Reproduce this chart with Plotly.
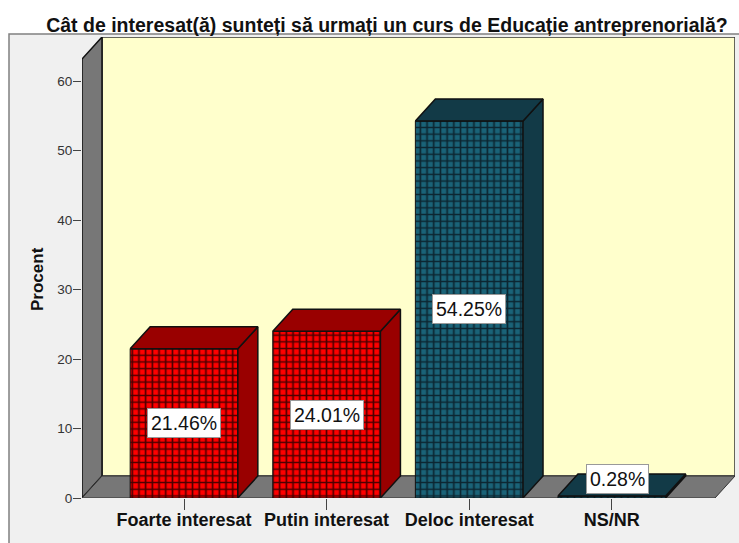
import plotly.graph_objects as go

categories = ["Foarte interesat", "Putin interesat", "Deloc interesat", "NS/NR"]
values = [21.46, 24.01, 54.25, 0.28]
labels = ["21.46%", "24.01%", "54.25%", "0.28%"]
front_colors = ["#FF0000", "#FF0000", "#1A6378", "#1A6378"]
grid_colors = ["#4A0000", "#4A0000", "#0C2530", "#0C2530"]
side_colors = ["#990000", "#990000", "#123A47", "#123A47"]
y_ticks = [0, 10, 20, 30, 40, 50, 60]
title = "Cât de interesat(ă) sunteți să urmați un curs de Educație antreprenorială?"

W, H = 739, 543
L, R, T, B = 82, 735, 37, 498
PX_X = 142.6
PX_Y = 6.95
X0 = 184
DX = 20 / PX_X
DY = 22 / PX_Y
BAR_W = 0.755
xr = [(L - X0) / PX_X, (R - X0) / PX_X]
yr = [0, (B - T) / PX_Y]
ymax = yr[1]

fig = go.Figure()


def path(xs, ys):
    return "M" + " L".join(f"{x},{y}" for x, y in zip(xs, ys)) + " Z"


def wall(xs, ys, fill, line="#111111", width=1.5):
    return dict(type="path", path=path(xs, ys), xref="x", yref="y", layer="below",
                fillcolor=fill, line=dict(color=line, width=width))


def poly(xs, ys, fill, line="#111111", width=1.5):
    fig.add_trace(go.Scatter(x=xs + xs[:1], y=ys + ys[:1], mode="lines", fill="toself",
                             fillcolor=fill, line=dict(color=line, width=width),
                             hoverinfo="skip", showlegend=False, cliponaxis=False))


# bars: side and top faces
for i, v in enumerate(values):
    a, b = i - BAR_W / 2, i + BAR_W / 2
    poly([b, b + DX, b + DX, b], [0, DY, v + DY, v], side_colors[i])
    poly([a, a + DX, b + DX, b], [v, v + DY, v + DY, v], side_colors[i])

for i, v in enumerate(values):
    fig.add_trace(go.Bar(
        x=[i], y=[v], width=BAR_W,
        marker=dict(color=front_colors[i], line=dict(color="#111111", width=1),
                    pattern=dict(shape="+", size=6.7, solidity=0.43, fgcolor=grid_colors[i],
                                 bgcolor=front_colors[i], fgopacity=1, fillmode="overlay")),
        hoverinfo="skip", showlegend=False))

yshift = [0, 0, 0, 18]
xshift = [0, 0, 0, 6]
for i, (v, t) in enumerate(zip(values, labels)):
    fig.add_annotation(x=i, y=v / 2, text=t, showarrow=False, yshift=yshift[i], xshift=xshift[i],
                       bgcolor="#FFFFFF", bordercolor="#999999", borderwidth=1, borderpad=3,
                       font=dict(family="Liberation Sans", size=19.5, color="#111111"))

fig.add_annotation(xref="paper", yref="paper", x=(37 - L) / (R - L), y=(B - 279) / (B - T),
                   xanchor="center", yanchor="middle",
                   text="<b>Procent</b>", textangle=-90, showarrow=False,
                   font=dict(family="Liberation Sans", size=17, color="#111111"))

panel = dict(type="rect", xref="paper", yref="paper", layer="below",
             x0=-(L - 9) / (R - L), x1=(W + 4 - L) / (R - L),
             y0=-(H + 4 - B) / (B - T), y1=(B - 34) / (B - T),
             fillcolor="#F0F0F0", line=dict(color="#808080", width=1.5))

fig.update_layout(
    width=W, height=H, autosize=False, plot_bgcolor="rgba(0,0,0,0)", paper_bgcolor="#FFFFFF",
    margin=dict(l=L, r=W - R, t=T, b=H - B), showlegend=False, barmode="overlay",
    title=dict(text="<b>" + title + "</b>", x=387 / W, xref="container", xanchor="center",
               y=1 - 25 / H, yanchor="middle",
               font=dict(family="Liberation Sans", size=19.5, color="#111111")),
    xaxis=dict(range=xr, tickmode="array", tickvals=list(range(len(categories))),
               ticktext=["<b>%s</b>" % c for c in categories],
               ticks="outside", ticklen=11, tickwidth=1, tickcolor="#444444", showgrid=False, zeroline=False,
               showline=False, ticklabelstandoff=-6,
               tickfont=dict(family="Liberation Sans", size=18, color="#111111")),
    yaxis=dict(range=yr, tickmode="array", tickvals=y_ticks, ticks="outside", ticklen=8, tickwidth=1,
               tickcolor="#444444", showgrid=False, zeroline=False, showline=False, ticklabelstandoff=-2,
               tickfont=dict(family="Liberation Sans", size=13.5, color="#333333")),
    shapes=[
        panel,
        wall([xr[0] + DX, xr[1], xr[1], xr[0] + DX], [DY, DY, ymax, ymax], "#FFFFCC", "#333333", 1.5),
        wall([xr[0], xr[0] + DX, xr[0] + DX, xr[0]], [0, DY, ymax, ymax - DY], "#777777"),
        wall([xr[0], xr[0] + DX, xr[1], xr[1] - DX], [0, DY, DY, 0], "#777777", "#333333", 1),
    ],
)
fig.write_html("out.html", config={"displayModeBar": False},
               post_script="document.body.style.margin='0';")
